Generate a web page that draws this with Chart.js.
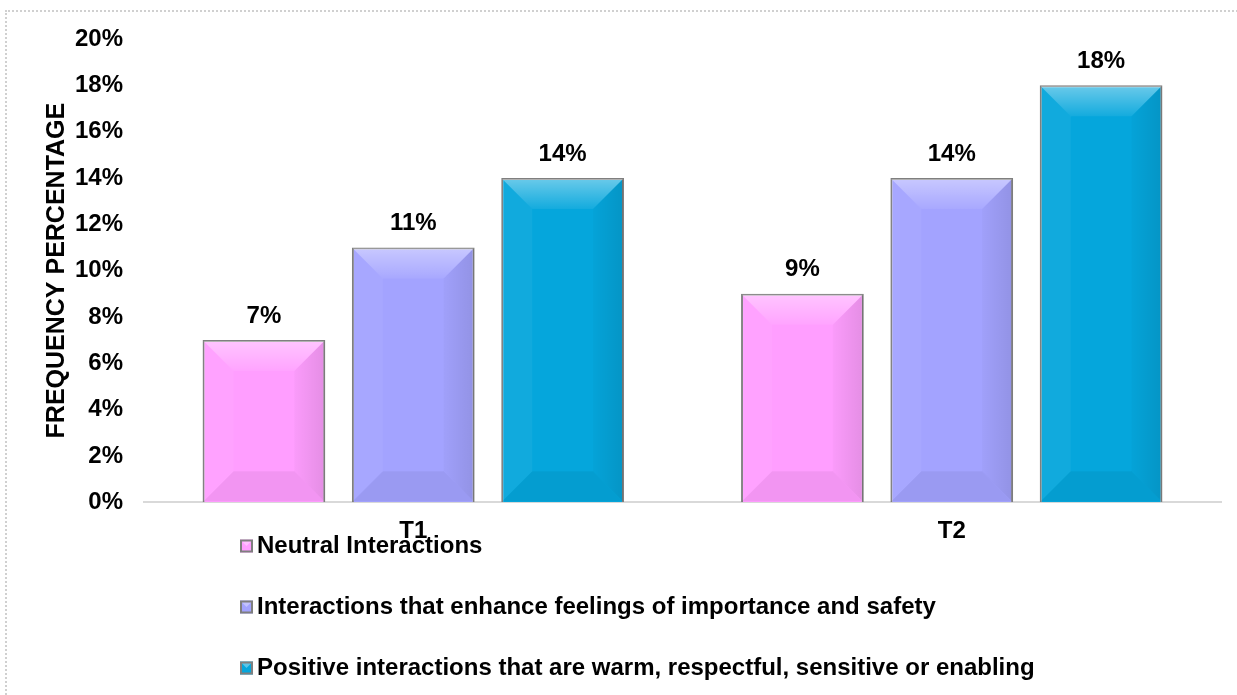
<!DOCTYPE html>
<html>
<head>
<meta charset="utf-8">
<title>Frequency of interactions</title>
<script src="https://cdn.jsdelivr.net/npm/chart.js@4.4.1/dist/chart.umd.min.js"></script>
<style>
  html, body { margin: 0; padding: 0; background: #fff; overflow: hidden; }
  #frame {
    position: absolute; left: 5px; top: 10px; width: 1400px; height: 900px;
    border: 2px dotted #d0d0d0;
  }
  #chart { position: absolute; left: 0; top: 0; }
</style>
</head>
<body>
<div id="frame"></div>
<canvas id="chart" width="1237" height="695"></canvas>
<script>
const categories = ['T1', 'T2'];
const seriesNames = [
  'Neutral Interactions',
  'Interactions that enhance feelings of importance and safety',
  'Positive interactions that are warm, respectful, sensitive or enabling'
];
const neutral = [7, 9];
const importanceSafety = [11, 14];
const warmRespectful = [14, 18];
const yTicks = [0, 2, 4, 6, 8, 10, 12, 14, 16, 18, 20];

const barColors = ['#ff9eff', '#a3a3ff', '#05a6dc'];
const FONT = '"Liberation Sans", Arial, sans-serif';

// shaded bevel over every bar, like the old office "cool slant" look
const bevelPlugin = {
  id: 'bevel',
  afterDatasetsDraw(chart) {
    const ctx = chart.ctx;
    chart.data.datasets.forEach((ds, i) => {
      chart.getDatasetMeta(i).data.forEach(bar => {
        const l = bar.x - bar.width / 2 + 1, r = bar.x + bar.width / 2 - 1;
        const t = bar.y + 1, b = bar.base - 1;
        const s = Math.min(30, (r - l) / 2, (b - t) / 2);
        ctx.save();
        // top face
        let g = ctx.createLinearGradient(0, t, 0, t + s);
        g.addColorStop(0, 'rgba(255,255,255,0.40)');
        g.addColorStop(1, 'rgba(255,255,255,0.06)');
        ctx.fillStyle = g;
        ctx.beginPath();
        ctx.moveTo(l, t); ctx.lineTo(r, t); ctx.lineTo(r - s, t + s); ctx.lineTo(l + s, t + s);
        ctx.closePath(); ctx.fill();
        // left face
        ctx.fillStyle = 'rgba(255,255,255,0.05)';
        ctx.beginPath();
        ctx.moveTo(l, t); ctx.lineTo(l + s, t + s); ctx.lineTo(l + s, b - s); ctx.lineTo(l, b);
        ctx.closePath(); ctx.fill();
        // right face
        g = ctx.createLinearGradient(r - s, 0, r, 0);
        g.addColorStop(0, 'rgba(0,0,0,0.02)');
        g.addColorStop(1, 'rgba(0,0,0,0.10)');
        ctx.fillStyle = g;
        ctx.beginPath();
        ctx.moveTo(r, t); ctx.lineTo(r - s, t + s); ctx.lineTo(r - s, b - s); ctx.lineTo(r, b);
        ctx.closePath(); ctx.fill();
        // bottom face
        ctx.fillStyle = 'rgba(0,0,0,0.05)';
        ctx.beginPath();
        ctx.moveTo(l, b); ctx.lineTo(r, b); ctx.lineTo(r - s, b - s); ctx.lineTo(l + s, b - s);
        ctx.closePath(); ctx.fill();
        ctx.restore();
      });
    });
  }
};

// value labels on top of the bars
const valueLabels = {
  id: 'valueLabels',
  afterDatasetsDraw(chart) {
    const ctx = chart.ctx;
    ctx.save();
    ctx.font = 'bold 24px ' + FONT;
    ctx.fillStyle = '#000';
    ctx.textAlign = 'center';
    ctx.textBaseline = 'middle';
    chart.data.datasets.forEach((ds, i) => {
      chart.getDatasetMeta(i).data.forEach((bar, j) => {
        ctx.fillText(ds.data[j] + '%', bar.x, bar.y - 24);
      });
    });
    ctx.restore();
  }
};

// stacked legend below the axis
const stackedLegend = {
  id: 'stackedLegend',
  afterDraw(chart) {
    const ctx = chart.ctx;
    const x0 = 240, y0 = 546, gap = 61, box = 13;
    ctx.save();
    ctx.font = 'bold 24px ' + FONT;
    ctx.textBaseline = 'middle';
    ctx.textAlign = 'left';
    chart.data.datasets.forEach((ds, i) => {
      const y = y0 + i * gap;
      ctx.fillStyle = ds.backgroundColor;
      ctx.fillRect(x0, y - box / 2, box, box);
      ctx.fillStyle = 'rgba(255,255,255,0.35)';
      ctx.beginPath();
      ctx.moveTo(x0, y - box / 2); ctx.lineTo(x0 + box, y - box / 2);
      ctx.lineTo(x0 + box / 2, y); ctx.closePath(); ctx.fill();
      ctx.strokeStyle = '#7f7f7f';
      ctx.lineWidth = 2;
      ctx.strokeRect(x0 + 1, y - box / 2 + 1, box - 2, box - 2);
      ctx.fillStyle = '#000';
      ctx.fillText(ds.label, x0 + box + 4, y);
    });
    ctx.restore();
  }
};

const seriesValues = [neutral, importanceSafety, warmRespectful];

new Chart(document.getElementById('chart'), {
  type: 'bar',
  data: {
    labels: categories,
    datasets: seriesNames.map((name, i) => ({
      label: name,
      data: seriesValues[i],
      backgroundColor: barColors[i],
      borderColor: '#7f7f7f',
      borderWidth: 2,
      categoryPercentage: 0.832,
      barPercentage: 0.822
    }))
  },
  options: {
    responsive: false,
    animation: false,
    layout: { padding: { left: 36, right: 16, top: 39, bottom: 134 } },
    plugins: {
      legend: { display: false },
      tooltip: { enabled: false }
    },
    scales: {
      x: {
        grid: { display: false, drawTicks: false },
        border: { display: true, color: '#d9d9d9', width: 2 },
        ticks: { color: '#000', font: { family: FONT, size: 24, weight: 'bold' }, padding: 15 }
      },
      y: {
        min: 0,
        max: 20,
        afterBuildTicks: axis => { axis.ticks = yTicks.map(v => ({ value: v })); },
        grid: { display: false, drawTicks: false },
        border: { display: false },
        ticks: {
          color: '#000',
          padding: 21,
          font: { family: FONT, size: 24, weight: 'bold' },
          callback: v => v + '%'
        },
        title: {
          display: true,
          text: 'FREQUENCY PERCENTAGE',
          color: '#000',
          padding: { top: 6, bottom: -18 },
          font: { family: FONT, size: 25, weight: 'bold' }
        }
      }
    }
  },
  plugins: [bevelPlugin, valueLabels, stackedLegend]
});
</script>
</body>
</html>
